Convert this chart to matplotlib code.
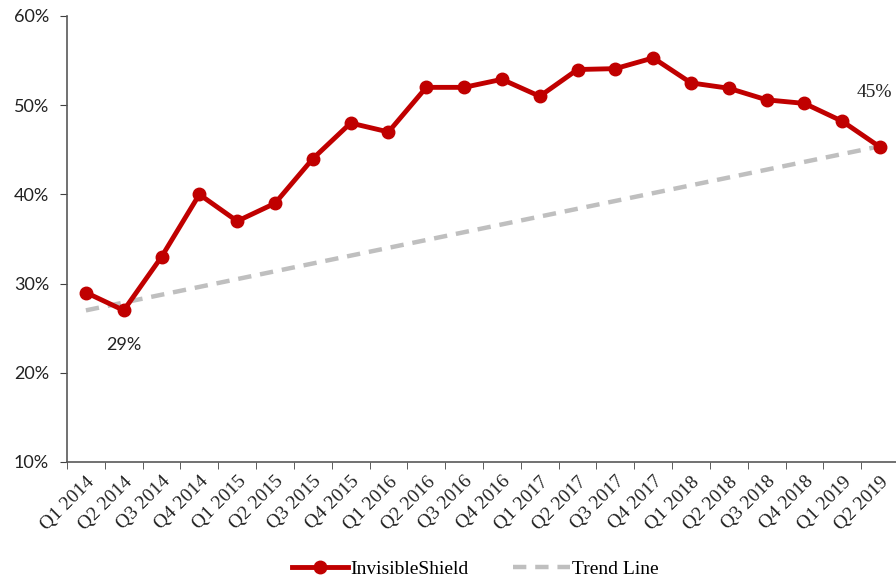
import matplotlib.pyplot as plt
import numpy as np
from matplotlib.ticker import FixedLocator, PercentFormatter

plt.rcParams['font.family'] = ['Liberation Serif', 'DejaVu Serif']
SANS = ['Lato', 'DejaVu Sans']

quarters = ["Q1 2014", "Q2 2014", "Q3 2014", "Q4 2014",
            "Q1 2015", "Q2 2015", "Q3 2015", "Q4 2015",
            "Q1 2016", "Q2 2016", "Q3 2016", "Q4 2016",
            "Q1 2017", "Q2 2017", "Q3 2017", "Q4 2017",
            "Q1 2018", "Q2 2018", "Q3 2018", "Q4 2018",
            "Q1 2019", "Q2 2019"]
shield = [29.0, 27.0, 33.0, 40.0, 37.0, 39.0, 44.0, 48.0, 47.0, 52.0, 52.0,
          52.9, 51.0, 54.0, 54.1, 55.3, 52.5, 51.9, 50.6, 50.2, 48.2, 45.3]
# trend line end points (first and last quarter)
trend_x = [0, 21]
trend = [27.0, 45.4]

RED = "#C00000"
GREY = "#BFBFBF"

fig = plt.figure(figsize=(8.96, 5.82), dpi=100)
ax = fig.add_axes([67 / 896, 1 - 462 / 582, 832 / 896, 446 / 582])

x = np.arange(len(quarters))
ax.plot(trend_x, trend, color=GREY, lw=3.2, ls=(0, (3, 2)), label="Trend Line",
        zorder=2)
ax.plot(x, shield, color=RED, lw=3.5, marker="o", ms=9, label="InvisibleShield",
        zorder=3)

ax.text(1, 23.1, "29%", ha="center", va="center", fontsize=13, color="#222222",
        family=SANS)
ax.text(20.85, 51.4, "45%", ha="center", va="center", fontsize=14,
        color="#222222")

ax.set_ylim(10, 60)
ax.set_yticks(range(10, 61, 10))
ax.yaxis.set_major_formatter(PercentFormatter(decimals=0))
ax.set_xlim(-0.5, len(quarters) - 0.5)
ax.set_xticks(x)
ax.set_xticklabels(quarters, rotation=45, ha="right", rotation_mode="anchor")
ax.xaxis.set_minor_locator(FixedLocator(np.arange(-0.5, len(quarters), 1)))
ax.tick_params(axis="x", which="major", length=0, pad=8, labelsize=14,
               labelcolor="#222222")
ax.tick_params(axis="x", which="minor", length=5, direction="out",
               color="#404040")
ax.tick_params(axis="y", length=5, direction="out", color="#404040",
               labelsize=13, labelcolor="#222222", pad=8)
for lab in ax.get_yticklabels():
    lab.set_family(SANS)

for s in ["top", "right"]:
    ax.spines[s].set_visible(False)
for s in ["left", "bottom"]:
    ax.spines[s].set_color("#595959")
    ax.spines[s].set_linewidth(1.2)

handles, labels = ax.get_legend_handles_labels()
fig.legend(handles[::-1], labels[::-1], loc="center",
           bbox_to_anchor=(475 / 896, 1 - 569 / 582),
           ncol=2, frameon=False, fontsize=14, handlelength=2.9,
           handletextpad=0.1, columnspacing=2.3)

fig.savefig("out.png", dpi=100)
